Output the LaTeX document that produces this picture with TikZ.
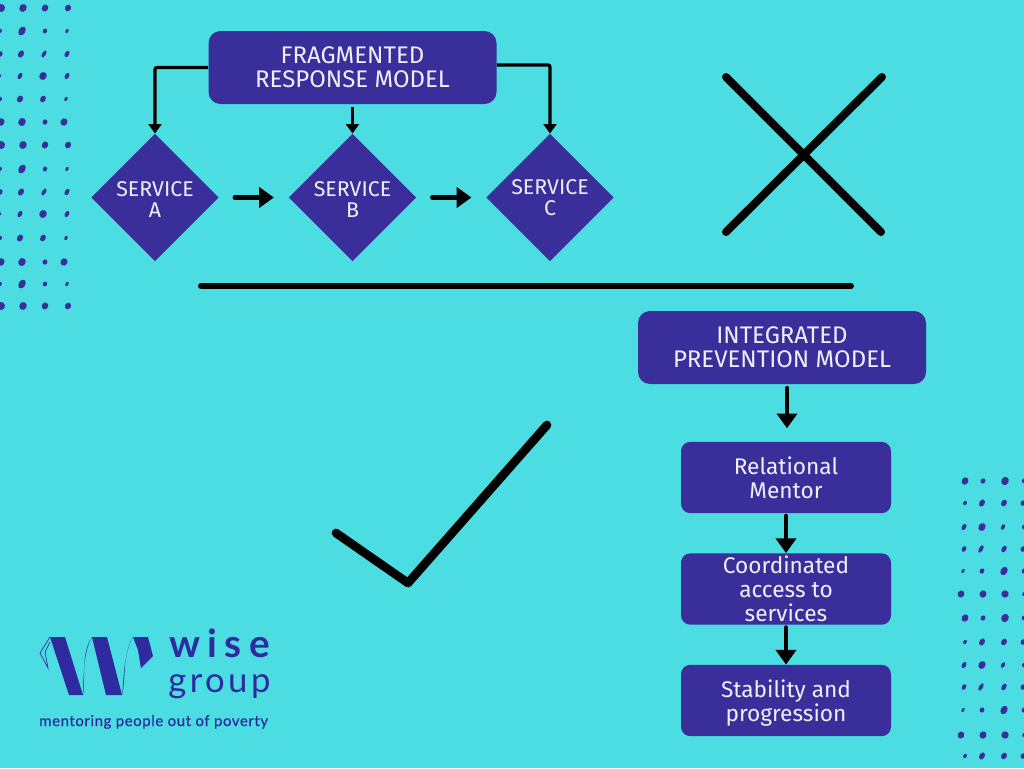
\documentclass[tikz,border=0pt]{standalone}
\usepackage{fontspec}
\setmainfont{Fira Sans}
\newfontfamily\logofont{Lato}
\usetikzlibrary{arrows.meta,shapes.geometric}
\definecolor{bgcyan}{HTML}{4BDDE2}
\definecolor{ink}{HTML}{3A2E9B}
\definecolor{logoink}{HTML}{2F2AA0}
\definecolor{paper}{HTML}{F1EEFB}
\newcommand{\dotrow}[2]{\foreach \px/\ra/\rb in {#2} {\fill[ink,rotate around={60:(\px,#1)}] (\px,#1) ellipse [x radius=1.15*\ra, y radius=1.15*\rb];}}
\tikzset{
  bigbox/.style={draw=none,fill=ink,rounded corners=9pt,text=paper,align=center,font=\fontsize{18}{18}\selectfont,inner sep=0pt,minimum width=216pt,minimum height=54.75pt},
  stepbox/.style={draw=none,fill=ink,rounded corners=7pt,text=paper,align=center,font=\fontsize{17}{18}\selectfont,inner sep=0pt,minimum width=157.5pt,minimum height=53.5pt},
  service/.style={draw=none,fill=ink,diamond,text=paper,align=center,font=\fontsize{16}{16}\selectfont,minimum size=95.5pt,inner sep=0pt},
  thinarrow/.style={line width=2.4pt,-{Triangle[length=7pt,width=9.5pt]},rounded corners=1.5pt},
  thickarrow/.style={line width=3.6pt,line cap=round,-{Triangle[length=11pt,width=15pt]}},
  mark line/.style={line width=6pt,line cap=round,line join=round},
}
\begin{document}
\begin{tikzpicture}[x=0.75pt,y=-0.75pt]
\useasboundingbox (0,0) rectangle (1024,768);
\fill[bgcyan] (0,0) rectangle (1024,768);

% left dot field
\foreach \oy in {8,145,306}{\dotrow{\oy}{1/3.5/3.5,23/3.5/3.2,45/3.2/2.7,68/3/2.6}}
\foreach \oy in {31,169,284}{\dotrow{\oy}{0/2/1.5,22/4.2/2.9,45/2.2/1.9,67/2/1.3}}
\foreach \oy in {54,192}{\dotrow{\oy}{0/2.6/2.2,21/3.4/2.4,44/3.5/1.6,67/3/1.9}}
\foreach \oy in {76,214}{\dotrow{\oy}{0/1.7/1.2,20/3/1.8,43/3.5/3.2,67/2.8/1.9}}
\foreach \oy in {99,238}{\dotrow{\oy}{0/2/1.7,20/3.2/2.5,43/3.1/2.3,66/2/1.3}}
\foreach \oy in {122,262}{\dotrow{\oy}{1/3.4/3,22/3.6/3.2,45/2.4/2.1,64/3.3/3}}

% right dot field
\foreach \oy in {481,618}{\dotrow{\oy}{965/3.4/2.8,983/2.4/2,1005/3.7/3.2,1024/2/2}}
\foreach \oy in {503,642,756}{\dotrow{\oy}{965/2/1.5,982/3.3/2.3,1004/3/2.4,1023/2.5/2}}
\foreach \oy in {527,665}{\dotrow{\oy}{964/2.8/1.9,982/3.6/3,1003/2.6/1.6,1024/2/1.7}}
\foreach \oy in {549,687}{\dotrow{\oy}{964/2.6/1.8,981/3.6/1.7,1004/3.2/2,1023/2.5/2}}
\foreach \oy in {571,710}{\dotrow{\oy}{963/2/1.2,982/2.4/2,1004/3.9/2.9,1024/2.4/1.9}}
\foreach \oy in {594,735}{\dotrow{\oy}{961/3.2/2.8,983/3.3/3,1005/3.2/3.2,1024/1.8/1.5}}

% fragmented model
\node[bigbox] (frag) at (352.5,67.5) {FRAGMENTED\\RESPONSE MODEL};
\node[service] (sa) at (155,197.5) {\rule{0pt}{14.5pt}SERVICE\\A};
\node[service] (sb) at (352.5,197.5) {\rule{0pt}{14.5pt}SERVICE\\B};
\node[service] (sc) at (550,197.5) {SERVICE\\C};

\draw[thinarrow] (frag.west) -| (sa.north);
\draw[thinarrow] ([yshift=1.9pt]frag.east) -| (sc.north);
\draw[thinarrow,shorten <=2pt] (frag.south) -- (sb.north);
\draw[thickarrow,shorten <=12pt,shorten >=11pt] (sa.east) -- (sb.west);
\draw[thickarrow,shorten <=12pt,shorten >=11pt] (sb.east) -- (sc.west);

% cross, divider and tick
\coordinate (xa) at (726,77); \coordinate (xb) at (881,232);
\coordinate (xc) at (882,77); \coordinate (xd) at (726,232);
\draw[mark line] (xa) -- (xb);
\draw[mark line] (xc) -- (xd);
\coordinate (la) at (201,286); \coordinate (lb) at (851,286);
\draw[mark line,line width=4.5pt] (la) -- (lb);
\coordinate (ca) at (336,533); \coordinate (cb) at (408,583); \coordinate (cc) at (547,425);
\draw[mark line,line width=6.5pt] (ca) -- (cb) -- (cc);

% integrated model
\node[bigbox] (integ) at (782,347.5) {INTEGRATED\\PREVENTION MODEL};
\node[stepbox] (rel) at (786,477.5) {Relational\\Mentor};
\node[stepbox] (coord) at (786,589) {Coordinated\\access to\\services};
\node[stepbox] (stab) at (786,700.5) {\rule{0pt}{16.5pt}Stability and\\progression};
\draw[thickarrow,shorten <=3pt,shorten >=10pt] ([xshift=0.75pt]integ.south -| rel.north) -- ([xshift=0.75pt]rel.north);
\draw[thickarrow,shorten <=2pt] (rel.south) -- (coord.north);
\draw[thickarrow,shorten <=2pt] (coord.south) -- (stab.north);

% logo
\fill[logoink] (50,637) -- (65,637) -- (83,695) -- (69,695) -- cycle;
\fill[logoink] (92,637) -- (107,637) -- (122,695) -- (106,695) -- cycle;
\fill[logoink] (133,637) -- (148,637) -- (153,656) -- (141,668) -- (138,650) -- cycle;
\draw[logoink,line width=0.5pt] (50,637) -- (40,653) -- (48,668) -- (45,652) -- (50,642);
\fill[logoink] (83,695) .. controls (86,680) and (80,655) .. (92,637) .. controls (82,655) and (84,680) .. (83,695) -- cycle;
\fill[logoink] (122,695) .. controls (126,680) and (122,655) .. (133,637) .. controls (123,655) and (124,680) .. (122,695) -- cycle;
\node[anchor=base west,inner sep=0pt,text=logoink,font=\logofont\bfseries\fontsize{29}{29}\selectfont\addfontfeature{LetterSpace=19}] (wise) at (169,657) {wise};
\node[anchor=base west,inner sep=0pt,text=logoink,font=\logofont\fontsize{26}{26}\selectfont\addfontfeature{LetterSpace=10}] (group) at (168,692) {group};
\node[anchor=base west,inner sep=0pt,text=logoink,font=\logofont\fontsize{11.2}{12}\selectfont\addfontfeature{LetterSpace=4,FakeBold=0.4}] (tag) at (39,726) {mentoring people out of poverty};
\end{tikzpicture}
\end{document}
